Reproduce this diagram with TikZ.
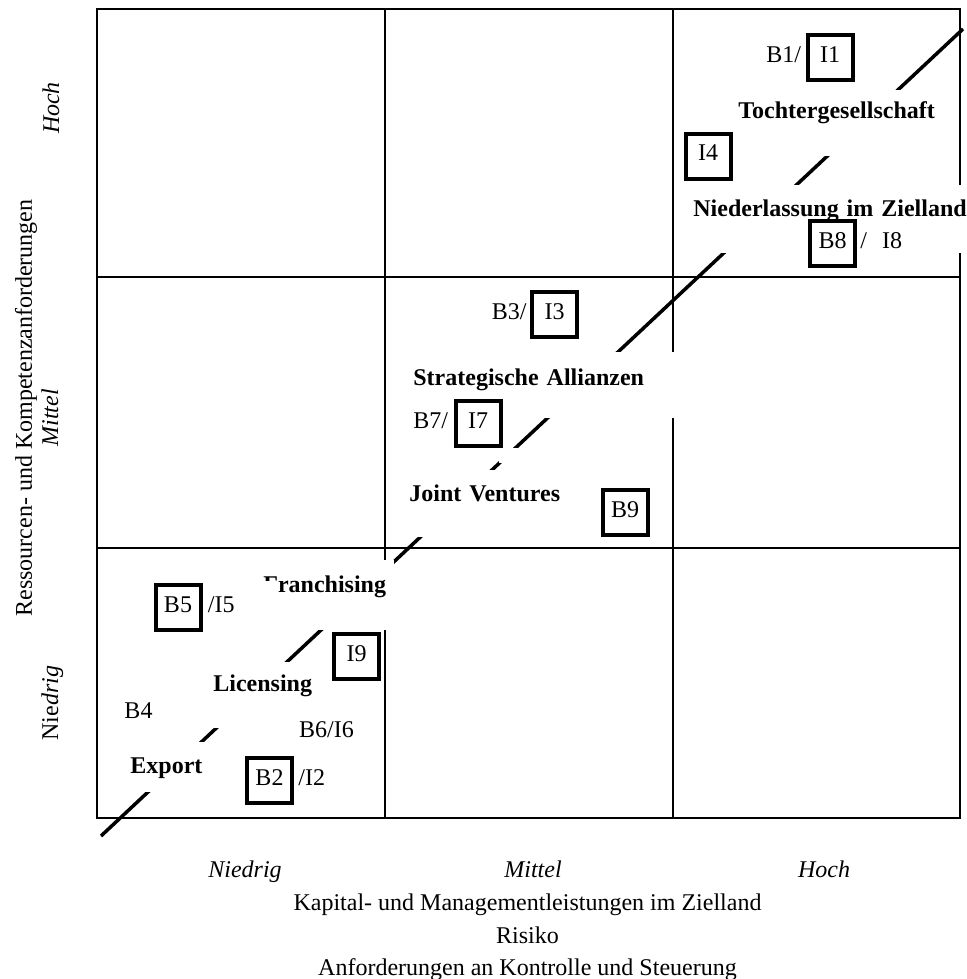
\documentclass[tikz,border=0pt]{standalone}
\usepackage{fontspec}
\setmainfont{Liberation Serif}
\usetikzlibrary{positioning}

\newcommand{\labelsize}{\fontsize{12}{14}\selectfont}

\begin{document}
\begin{tikzpicture}[x=0.5pt, y=-0.5pt, font=\labelsize,
    grid/.style={line width=1.1pt},
    lbl/.style={fill=white, font=\labelsize\bfseries, inner xsep=2.5pt, inner ysep=0pt, anchor=base west, align=left},
    bx/.style={draw, line width=2pt, fill=white, minimum size=22.5pt, inner sep=0pt, text height=12pt, text depth=7pt, font=\labelsize},
    txt/.style={inner sep=0pt, font=\labelsize},
    lev/.style={inner sep=0pt, anchor=base, font=\labelsize\itshape}]
    \useasboundingbox (0,0) rectangle (966,979);

    % Matrix
    \draw[grid] (97,9) rectangle (960,818);
    \draw[grid] (385,9) -- (385,818) (673,9) -- (673,818);
    \draw[grid] (97,277) -- (960,277) (97,548) -- (960,548);

    % Diagonal
    \draw[line width=1.75pt] (101,836) -- (963,29);
    \fill[white] (499,448) rectangle (520,463);

    % Strategies
    \node[lbl, text width=102pt, text height=14.5pt, text depth=18.5pt] (toch) at (733,119) {Tochtergesellschaft};
    \node[lbl, text width=140pt, text height=15.5pt, text depth=18.5pt] (nied) at (688,216) {Niederlassung im Zielland};
    \node[lbl, text width=131pt, text height=16.5pt, text depth=16.5pt] (alli) at (408,385) {Strategische Allianzen};
    \node[lbl, text width=80pt, text height=15.5pt, text depth=18pt] (jv) at (404,501) {Joint Ventures};
    \node[lbl, text width=63pt, text height=16pt, text depth=19pt] (fran) at (258,592) {Franchising};
    \fill[white] (140,581) rectangle (276,640);
    \node[lbl, text width=52pt, text height=14.5pt, text depth=18.5pt] (lic) at (208,691) {Licensing};
    \node[lbl, text width=38pt, text height=15.5pt, text depth=9.5pt] (exp) at (125,773) {Export};

    % Positions
    \node[bx] (i1) at (830,57.5) {I1};
    \node[txt, left=2pt of i1.base west, anchor=base east] (b1) {B1/};
    \node[bx] (i4) at (708,156) {I4};
    \node[bx] (b8) at (832.5,243) {B8};
    \node[txt, right=1.5pt of b8.base east, anchor=base west] (i8) {/\hspace{7.5pt}I8};

    \node[bx] (i3) at (554.5,314) {I3};
    \node[txt, left=1.5pt of i3.base west, anchor=base east] (b3) {B3/};
    \node[bx] (i7) at (478,423.5) {I7};
    \node[txt, left=2.5pt of i7.base west, anchor=base east] (b7) {B7/};
    \node[bx] (b9) at (625,512.5) {B9};

    \node[bx] (b5) at (178,607.5) {B5};
    \node[txt, right=2.5pt of b5.base east, anchor=base west] (i5) {/I5};
    \node[bx] (i9) at (356.5,656.5) {I9};
    \node[txt, anchor=base] (b4) at (138.5,718) {B4};
    \node[txt, anchor=base] (b6) at (326.5,737) {B6/I6};
    \node[bx] (b2) at (269.5,780) {B2};
    \node[txt, right=2pt of b2.base east, anchor=base west] (i2) {/I2};

    % Axes
    \node[lev] (xlo) at (245,877) {Niedrig};
    \node[lev] (xmid) at (533,877) {Mittel};
    \node[lev] (xhi) at (824,877) {Hoch};
    \node[txt, anchor=base] (xlab1) at (527.5,910) {Kapital- und Managementleistungen im Zielland};
    \node[txt, anchor=base] (xlab2) at (527.5,943) {Risiko};
    \node[txt, anchor=base] (xlab3) at (527.5,975) {Anforderungen an Kontrolle und Steuerung};
    \node[lev, rotate=90] (ylo) at (58,703) {\upshape Nie\itshape drig};
    \node[lev, rotate=90] (ymid) at (58,418) {Mittel};
    \node[lev, rotate=90] (yhi) at (59,108) {Hoch};
    \node[txt, anchor=base, rotate=90] (ylab) at (32,408) {Ressourcen- und Kompetenzanforderungen};
\end{tikzpicture}
\end{document}
